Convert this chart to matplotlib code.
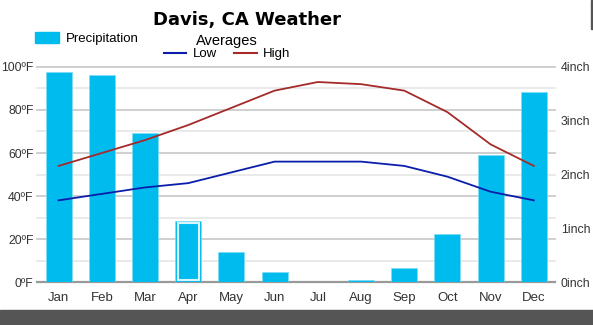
import matplotlib.pyplot as plt
from matplotlib.patches import Patch, Rectangle
from matplotlib.lines import Line2D

plt.rcParams['font.family'] = ['Liberation Sans', 'DejaVu Sans']

months = ['Jan', 'Feb', 'Mar', 'Apr', 'May', 'Jun', 'Jul', 'Aug', 'Sep', 'Oct', 'Nov', 'Dec']
precip = [3.91, 3.85, 2.77, 1.14, 0.56, 0.19, 0.0, 0.04, 0.26, 0.89, 2.36, 3.53]
low = [38, 41, 44, 46, 51, 56, 56, 56, 54, 49, 42, 38]
high = [54, 60, 66, 73, 81, 89, 93, 92, 89, 79, 64, 54]
temp_ticks = [0, 20, 40, 60, 80, 100]
inch_ticks = [0, 1, 2, 3, 4]
highlight = 3  # April

bar_col = '#00BBEE'
low_col = '#0A1EAA'
high_col = '#A52A2A'

fig = plt.figure(figsize=(5.93, 3.25), dpi=100)
ax = fig.add_axes([0.0624, 0.132, 0.867, 0.662])
ax2 = ax.twinx()

x = list(range(len(months)))

# grid, drawn on the inch axis so it sits behind the bars (4 inch == 100 F)
for i in range(11):
    t = i * 0.4
    major = i % 2 == 0
    ax2.plot([-0.5, 11.5], [t, t], color='#999999' if i == 0 else ('#cccccc' if major else '#e8e8e8'),
             lw=1.6 if i == 0 else 1.3, zorder=0, clip_on=False)

bars = ax2.bar(x, precip, width=0.6, color=bar_col, edgecolor='#7fdcf5', lw=0.5, zorder=2)
b = bars[highlight]
ax2.add_patch(Rectangle((b.get_x() + 0.06, 0.04), b.get_width() - 0.12, precip[highlight] - 0.08,
                        fill=False, edgecolor='#d8f4fc', lw=1.5, zorder=3))

ax.plot(x, low, color=low_col, lw=1.3, zorder=4)
ax.plot(x, high, color=high_col, lw=1.3, zorder=4)
ax.set_zorder(ax2.get_zorder() + 1)
ax.patch.set_visible(False)

ax.set_xlim(-0.5, 11.4)
ax2.set_xlim(-0.5, 11.4)
ax.set_ylim(0, 100)
ax2.set_ylim(0, 4)
ax.set_yticks(temp_ticks)
ax.set_yticklabels([f'{t}ºF' for t in temp_ticks])
ax2.set_yticks(inch_ticks)
ax2.set_yticklabels([f'{t}inch' for t in inch_ticks])
ax.set_xticks(x)
ax.set_xticklabels(months)

for a in (ax, ax2):
    for s in a.spines.values():
        s.set_visible(False)
    a.tick_params(length=0, labelsize=8.8, colors='#333333', pad=2.5)
ax2.tick_params(pad=7)
ax.tick_params(axis='x', pad=7, labelsize=9.5)

fig.text(0.417, 0.94, 'Davis, CA Weather', ha='center', va='center',
         fontsize=13, fontweight='bold', family='DejaVu Sans')

fig.legend(handles=[Patch(color=bar_col, label='Precipitation')],
           loc='center left', bbox_to_anchor=(0.048, 0.882), frameon=False,
           fontsize=9.5, handlelength=1.8, handleheight=0.9, handletextpad=0.5, borderpad=0)
leg2 = fig.legend(handles=[Line2D([], [], color=low_col, lw=1.5, label='Low'),
                           Line2D([], [], color=high_col, lw=1.5, label='High')],
                  title='Averages', ncol=2, loc='center', bbox_to_anchor=(0.383, 0.855),
                  frameon=False, fontsize=9.5, title_fontsize=10.5, handlelength=1.7,
                  columnspacing=1.3, borderpad=0, labelspacing=0, handletextpad=0.5)
leg2._legend_box.sep = 0

fig.patches.append(Rectangle((0, 0), 1, 15 / 325, transform=fig.transFigure,
                             color='#555555', zorder=0))
fig.patches.append(Rectangle((591 / 593, 1 - 29 / 325), 2 / 593, 29 / 325,
                             transform=fig.transFigure, color='#555555', zorder=0))

fig.savefig('out.png', dpi=100)
